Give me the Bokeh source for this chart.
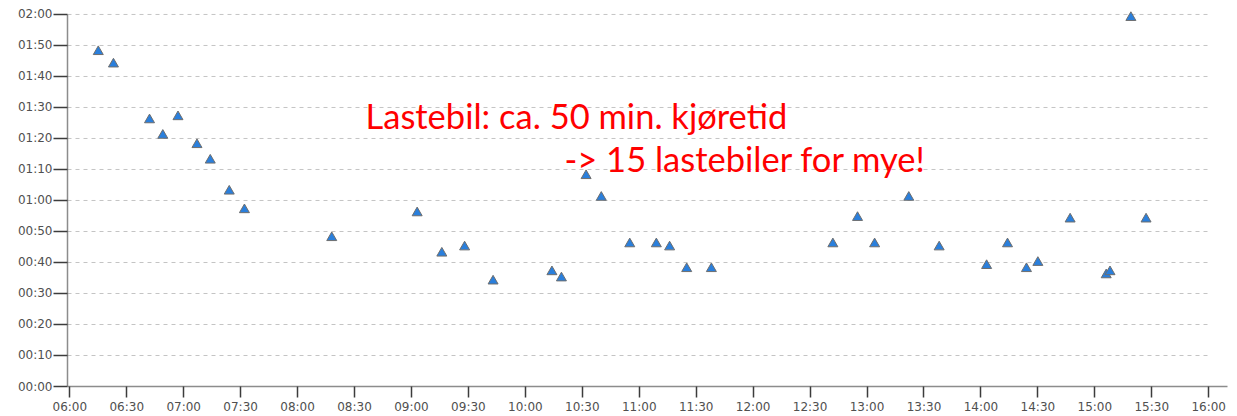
from bokeh.plotting import figure
from bokeh.models import Range1d, FixedTicker, Label
from bokeh.embed import file_html
from bokeh.resources import INLINE

# ---- data ----
start_times = ["06:15", "06:23", "06:42", "06:49", "06:57", "07:07", "07:14", "07:24",
               "07:32", "08:18", "09:03", "09:16", "09:28", "09:43", "10:14", "10:19",
               "10:32", "10:40", "10:55", "11:09", "11:16", "11:25", "11:38", "12:42",
               "12:55", "13:04", "13:22", "13:38", "14:03", "14:14", "14:24", "14:30",
               "14:47", "15:06", "15:08", "15:19", "15:27"]
durations_min = [108, 104, 86, 81, 87, 78, 73, 63,
                 57, 48, 56, 43, 45, 34, 37, 35,
                 68, 61, 46, 46, 45, 38, 38, 46,
                 54.5, 46, 61, 45, 39, 46, 38, 40,
                 54, 36, 37, 119, 54]
x_tick_labels = ["06:00", "06:30", "07:00", "07:30", "08:00", "08:30", "09:00", "09:30",
                 "10:00", "10:30", "11:00", "11:30", "12:00", "12:30", "13:00", "13:30",
                 "14:00", "14:30", "15:00", "15:30", "16:00"]
y_tick_labels = ["00:00", "00:10", "00:20", "00:30", "00:40", "00:50", "01:00",
                 "01:10", "01:20", "01:30", "01:40", "01:50", "02:00"]
note_line1 = "Lastebil: ca. 50 min. kjøretid"
note_line2 = "-> 15 lastebiler for mye!"


def to_min(s):
    h, m = s.split(":")
    return int(h) * 60 + int(m)


origin = to_min(x_tick_labels[0])
xs = [to_min(t) - origin for t in start_times]
x_ticks = [to_min(t) - origin for t in x_tick_labels]
y_ticks = [to_min(t) for t in y_tick_labels]

x0, x1 = -1.21, 609.9
p = figure(width=1237, height=416, output_backend="svg", toolbar_location=None,
           x_range=Range1d(x0, x1), y_range=Range1d(0, 122.57),
           min_border_left=67, min_border_right=10, min_border_top=6, min_border_bottom=29)
p.outline_line_color = None
p.grid.visible = False
p.background_fill_color = "white"
p.border_fill_color = "white"

# horizontal dashed grid lines (end at last x tick)
gy = y_ticks[1:]
p.segment(x0=[x0] * len(gy), y0=gy, x1=[x_ticks[-1]] * len(gy), y1=gy,
          line_color="#c4c4c4", line_dash="4 4", line_width=1)

p.scatter(xs, durations_min, marker="triangle", size=10,
          fill_color="#2a7fdc", line_color="#6e6e6e", line_width=1)

for ax in (p.xaxis[0], p.yaxis[0]):
    ax.axis_line_color = "#8c8c8c"
    ax.axis_line_width = 1.5
    ax.major_tick_in = 0
    ax.minor_tick_in = 0
    ax.minor_tick_out = 0
    ax.major_tick_line_color = "#3c3c3c"
    ax.major_tick_line_width = 1.5
    ax.major_label_text_font = "DejaVu Sans"
    ax.major_label_text_font_size = "12px"
    ax.major_label_text_color = "#505050"

p.xaxis.ticker = FixedTicker(ticks=x_ticks)
p.xaxis.major_label_overrides = {t: l for t, l in zip(x_ticks, x_tick_labels)}
p.xaxis.major_tick_out = 11
p.xaxis.major_label_standoff = 2

p.yaxis.ticker = FixedTicker(ticks=y_ticks)
p.yaxis.major_label_overrides = {t: l for t, l in zip(y_ticks, y_tick_labels)}
p.yaxis.major_tick_out = 14
p.yaxis.major_label_standoff = 1
p.yaxis.bounds = (y_ticks[0], y_ticks[-1])

p.add_layout(Label(x=155.8, y=87.4, text=note_line1, text_font="Lato",
                   text_font_size="34.5px", text_color="#ff0000",
                   text_baseline="alphabetic", text_align="left"))
p.add_layout(Label(x=260.6, y=73.4, text=note_line2, text_font="Lato",
                   text_font_size="34.5px", text_color="#ff0000",
                   text_baseline="alphabetic", text_align="left"))

open("out.html", "w").write(file_html(p, INLINE))
